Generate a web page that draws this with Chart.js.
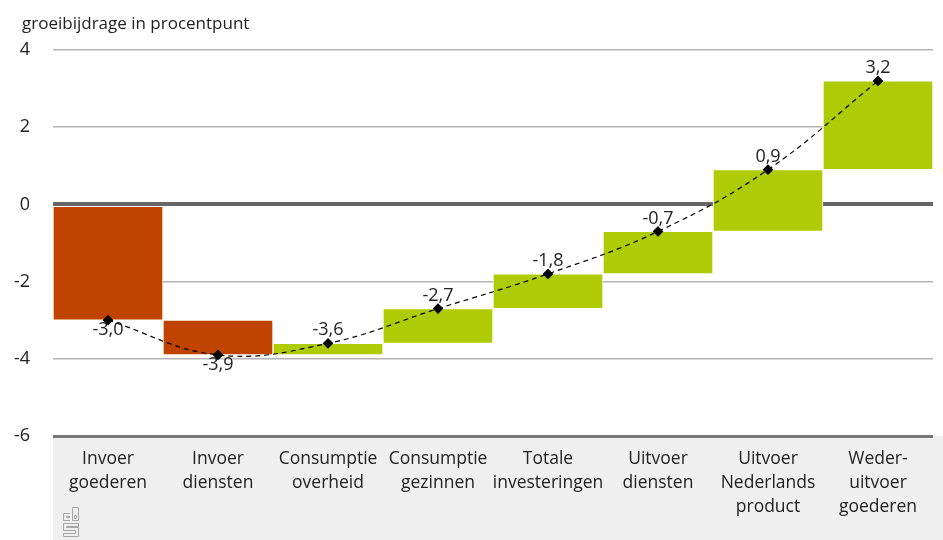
<!DOCTYPE html>
<html>
<head>
<meta charset="utf-8">
<script src="https://cdn.jsdelivr.net/npm/chart.js@4.4.1/dist/chart.umd.min.js"></script>
<style>
  html, body { margin: 0; padding: 0; background: #fff; }
  #wrap { width: 943px; height: 540px; position: relative; }
</style>
</head>
<body>
<div id="wrap"><canvas id="chart" width="943" height="540"></canvas></div>
<script>
const categories = [
    ['Invoer', 'goederen'],
    ['Invoer', 'diensten'],
    ['Consumptie', 'overheid'],
    ['Consumptie', 'gezinnen'],
    ['Totale', 'investeringen'],
    ['Uitvoer', 'diensten'],
    ['Uitvoer', 'Nederlands', 'product'],
    ['Weder-', 'uitvoer', 'goederen']
];
const contributions = [-3.0, -0.9, 0.3, 0.9, 0.9, 1.1, 1.6, 2.3];
const cumulative = [-3.0, -3.9, -3.6, -2.7, -1.8, -0.7, 0.9, 3.2];
const yTicks = [4, 2, 0, -2, -4, -6];
const axisTitle = 'groeibijdrage in procentpunt';

const FONT = '"Open Sans", Roboto, sans-serif';

// floating bars: from previous cumulative to current cumulative
const floating = cumulative.map((v, i) => [i === 0 ? 0 : cumulative[i - 1], v]);
const barColors = contributions.map(c => c < 0 ? '#c04400' : '#afcb05');

function drawLogo(ctx, x, y) {
    // rough outline of the small cbs mark
    ctx.save();
    ctx.strokeStyle = '#a6a6a6';
    ctx.lineWidth = 1;
    ctx.beginPath();
    // c
    ctx.moveTo(x + 7, y + 6.5); ctx.lineTo(x + 0.5, y + 6.5); ctx.lineTo(x + 0.5, y + 13.5); ctx.lineTo(x + 7, y + 13.5);
    ctx.moveTo(x + 7, y + 9.5); ctx.lineTo(x + 3.5, y + 9.5); ctx.lineTo(x + 3.5, y + 10.5); ctx.lineTo(x + 7, y + 10.5);
    // b
    ctx.rect(x + 9.5, y + 0.5, 6, 13);
    ctx.rect(x + 11.5, y + 8.5, 2, 3);
    // s
    ctx.moveTo(x + 15.5, y + 16.5); ctx.lineTo(x + 0.5, y + 16.5); ctx.lineTo(x + 0.5, y + 23.5);
    ctx.lineTo(x + 12.5, y + 23.5); ctx.lineTo(x + 12.5, y + 26.5); ctx.lineTo(x + 0.5, y + 26.5);
    ctx.lineTo(x + 0.5, y + 29.5); ctx.lineTo(x + 15.5, y + 29.5); ctx.lineTo(x + 15.5, y + 20.5);
    ctx.lineTo(x + 3.5, y + 20.5); ctx.lineTo(x + 3.5, y + 19.5); ctx.lineTo(x + 15.5, y + 19.5); ctx.closePath();
    ctx.stroke();
    ctx.restore();
}

const decorPlugin = {
    id: 'decor',
    beforeDraw(chart) {
        const ctx = chart.ctx;
        const area = chart.chartArea;
        ctx.save();
        ctx.fillStyle = '#efefef';
        ctx.fillRect(area.left, area.bottom, chart.width - area.left, chart.height - area.bottom);
        ctx.fillStyle = '#222';
        ctx.font = '17px ' + FONT;
        ctx.textBaseline = 'middle';
        ctx.textAlign = 'left';
        ctx.fillText(axisTitle, 22, 24);
        ctx.restore();
        drawLogo(ctx, 63, 507);
    },
    afterDatasetsDraw(chart) {
        const ctx = chart.ctx;
        const meta = chart.getDatasetMeta(1);
        ctx.save();
        ctx.font = '18px ' + FONT;
        ctx.fillStyle = '#222';
        ctx.textAlign = 'center';
        meta.data.forEach((pt, i) => {
            const v = cumulative[i];
            const below = i < 2;
            ctx.textBaseline = below ? 'top' : 'bottom';
            const txt = v.toFixed(1).replace('.', ',');
            ctx.fillText(txt, pt.x, below ? pt.y + 1 : pt.y - 4);
        });
        ctx.restore();
    }
};

new Chart(document.getElementById('chart'), {
    data: {
        labels: categories,
        datasets: [
            {
                type: 'bar',
                data: floating,
                backgroundColor: barColors,
                borderColor: '#ffffff',
                borderWidth: 1,
                borderSkipped: false,
                barPercentage: 1,
                categoryPercentage: 1,
                order: 2
            },
            {
                type: 'line',
                data: cumulative,
                borderColor: '#000',
                borderWidth: 1.2,
                borderDash: [5, 4],
                tension: 0.4,
                pointStyle: 'rectRot',
                pointRadius: 4.5,
                pointBackgroundColor: '#000',
                pointBorderColor: '#000',
                fill: false,
                order: 1
            }
        ]
    },
    options: {
        responsive: false,
        animation: false,
        layout: { padding: { top: 50, right: 10, left: 0, bottom: 0 } },
        plugins: {
            legend: { display: false },
            tooltip: { enabled: false }
        },
        scales: {
            x: {
                grid: { display: false },
                border: { display: false },
                ticks: {
                    color: '#222',
                    font: { family: FONT, size: 17.5, lineHeight: 1.38 },
                    padding: 3,
                    maxRotation: 0,
                    autoSkip: false
                },
                afterFit(scale) { scale.height = 104; }
            },
            y: {
                min: -6,
                max: 4,
                afterBuildTicks(scale) { scale.ticks = yTicks.map(v => ({ value: v })); },
                border: { display: false },
                grid: {
                    drawTicks: false,
                    color: ctx => ctx.tick.value === 0 ? '#666' : (ctx.tick.value === -6 ? '#777' : '#b4b4b4'),
                    lineWidth: ctx => ctx.tick.value === 0 ? 4 : (ctx.tick.value === -6 ? 3 : 1.5)
                },
                ticks: {
                    color: '#222',
                    font: { family: FONT, size: 18 },
                    padding: 23,
                    callback: v => String(v)
                },
                afterFit(scale) { scale.width = 53; }
            }
        }
    },
    plugins: [decorPlugin]
});
</script>
</body>
</html>
